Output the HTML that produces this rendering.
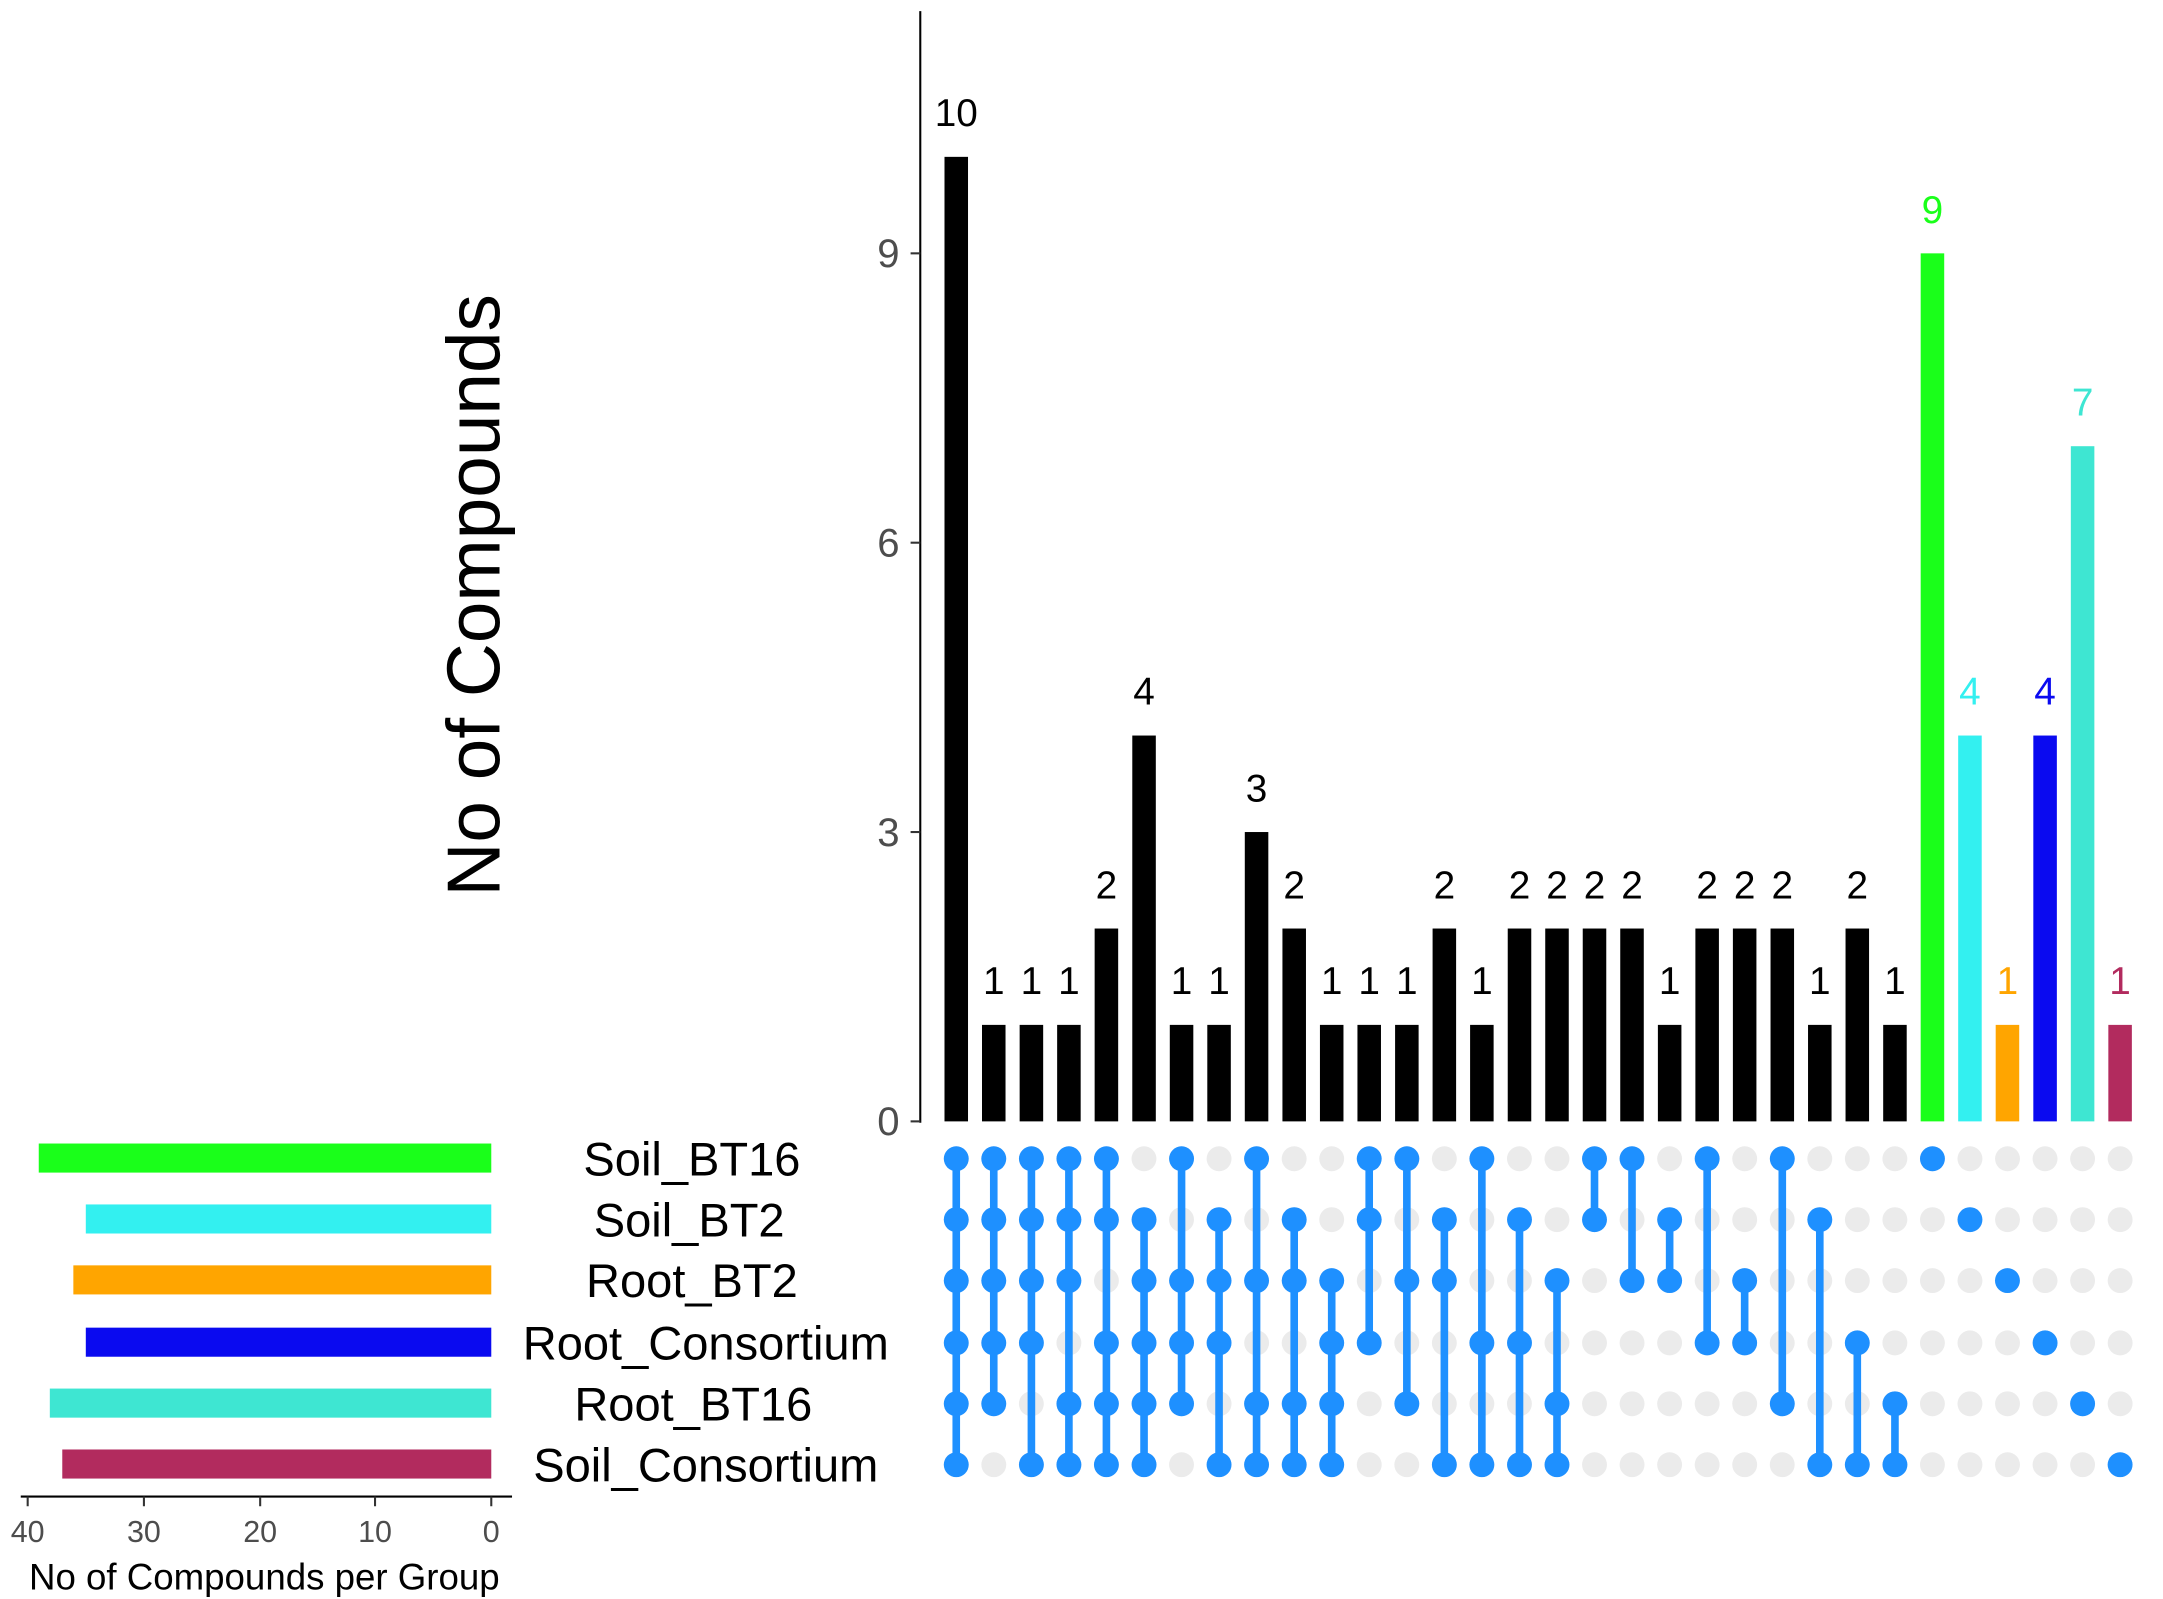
<!DOCTYPE html>
<html><head><meta charset="utf-8"><style>html,body{margin:0;padding:0;background:#fff}svg{display:block}</style></head>
<body>
<svg width="2163" height="1599" viewBox="0 0 1563 1155" preserveAspectRatio="none" xmlns="http://www.w3.org/2000/svg" font-family="Liberation Sans, sans-serif">
<rect width="1563" height="1155" fill="#fff"/>
<line x1="665" y1="8" x2="665" y2="811" stroke="#000" stroke-width="1.5"/>
<g stroke="#333" stroke-width="1.5">
<line x1="658" y1="810" x2="665" y2="810"/><line x1="658" y1="601" x2="665" y2="601"/>
<line x1="658" y1="392" x2="665" y2="392"/><line x1="658" y1="183" x2="665" y2="183"/>
</g>
<g font-size="29" fill="#4d4d4d" text-anchor="end">
<text x="650" y="820">0</text><text x="650" y="611">3</text><text x="650" y="402">6</text><text x="650" y="193">9</text>
</g>
<text transform="translate(361,430) rotate(-90)" font-size="54" text-anchor="middle" fill="#000">No of Compounds</text>

<!-- bars -->
<g fill="#000">
<rect x="682.5" y="113.3" width="17" height="696.7"/>
<rect x="709.6" y="740.3" width="17" height="69.7"/>
<rect x="736.8" y="740.3" width="17" height="69.7"/>
<rect x="763.9" y="740.3" width="17" height="69.7"/>
<rect x="791" y="670.7" width="17" height="139.3"/>
<rect x="818.2" y="531.3" width="17" height="278.7"/>
<rect x="845.3" y="740.3" width="17" height="69.7"/>
<rect x="872.4" y="740.3" width="17" height="69.7"/>
<rect x="899.5" y="601" width="17" height="209"/>
<rect x="926.7" y="670.7" width="17" height="139.3"/>
<rect x="953.8" y="740.3" width="17" height="69.7"/>
<rect x="980.9" y="740.3" width="17" height="69.7"/>
<rect x="1008.1" y="740.3" width="17" height="69.7"/>
<rect x="1035.2" y="670.7" width="17" height="139.3"/>
<rect x="1062.3" y="740.3" width="17" height="69.7"/>
<rect x="1089.5" y="670.7" width="17" height="139.3"/>
<rect x="1116.6" y="670.7" width="17" height="139.3"/>
<rect x="1143.7" y="670.7" width="17" height="139.3"/>
<rect x="1170.8" y="670.7" width="17" height="139.3"/>
<rect x="1198" y="740.3" width="17" height="69.7"/>
<rect x="1225.1" y="670.7" width="17" height="139.3"/>
<rect x="1252.2" y="670.7" width="17" height="139.3"/>
<rect x="1279.4" y="670.7" width="17" height="139.3"/>
<rect x="1306.5" y="740.3" width="17" height="69.7"/>
<rect x="1333.6" y="670.7" width="17" height="139.3"/>
<rect x="1360.8" y="740.3" width="17" height="69.7"/>
</g>
<rect x="1387.9" y="183" width="17" height="627" fill="#1aff1a"/>
<rect x="1415" y="531.3" width="17" height="278.7" fill="#33f0f0"/>
<rect x="1442.1" y="740.3" width="17" height="69.7" fill="#ffa500"/>
<rect x="1469.3" y="531.3" width="17" height="278.7" fill="#0a0af0"/>
<rect x="1496.4" y="322.3" width="17" height="487.7" fill="#3ee6d2"/>
<rect x="1523.5" y="740.3" width="17" height="69.7" fill="#b22b5e"/>

<g font-size="28" text-anchor="middle" fill="#000">
<text x="691" y="91">10</text>
<text x="718.1" y="718">1</text><text x="745.3" y="718">1</text><text x="772.4" y="718">1</text>
<text x="799.5" y="649">2</text><text x="826.7" y="509">4</text>
<text x="853.8" y="718">1</text><text x="880.9" y="718">1</text>
<text x="908" y="579">3</text><text x="935.2" y="649">2</text>
<text x="962.3" y="718">1</text><text x="989.4" y="718">1</text><text x="1016.6" y="718">1</text>
<text x="1043.7" y="649">2</text><text x="1070.8" y="718">1</text>
<text x="1098" y="649">2</text><text x="1125.1" y="649">2</text><text x="1152.2" y="649">2</text><text x="1179.3" y="649">2</text>
<text x="1206.5" y="718">1</text>
<text x="1233.6" y="649">2</text><text x="1260.7" y="649">2</text><text x="1287.9" y="649">2</text>
<text x="1315" y="718">1</text><text x="1342.1" y="649">2</text><text x="1369.3" y="718">1</text>
</g>
<g font-size="28" text-anchor="middle">
<text x="1396.4" y="161" fill="#1aff1a">9</text>
<text x="1423.5" y="509" fill="#33f0f0">4</text>
<text x="1450.6" y="718" fill="#ffa500">1</text>
<text x="1477.8" y="509" fill="#0a0af0">4</text>
<text x="1504.9" y="300" fill="#3ee6d2">7</text>
<text x="1532" y="718" fill="#b22b5e">1</text>
</g>

<!-- matrix grey dots -->
<g stroke="#ebebeb" stroke-width="18" stroke-linecap="round" stroke-dasharray="0 27.13">
<line x1="691" y1="837" x2="1533" y2="837"/>
<line x1="691" y1="881" x2="1533" y2="881"/>
<line x1="691" y1="925" x2="1533" y2="925"/>
<line x1="691" y1="970" x2="1533" y2="970"/>
<line x1="691" y1="1014" x2="1533" y2="1014"/>
<line x1="691" y1="1058" x2="1533" y2="1058"/>
</g>
<!-- connecting lines -->
<g stroke="#1e90ff" stroke-width="5.5">
<line x1="691" y1="837" x2="691" y2="1058"/>
<line x1="718.1" y1="837" x2="718.1" y2="1014"/>
<line x1="745.3" y1="837" x2="745.3" y2="1058"/>
<line x1="772.4" y1="837" x2="772.4" y2="1058"/>
<line x1="799.5" y1="837" x2="799.5" y2="1058"/>
<line x1="826.7" y1="881" x2="826.7" y2="1058"/>
<line x1="853.8" y1="837" x2="853.8" y2="1014"/>
<line x1="880.9" y1="881" x2="880.9" y2="1058"/>
<line x1="908" y1="837" x2="908" y2="1058"/>
<line x1="935.2" y1="881" x2="935.2" y2="1058"/>
<line x1="962.3" y1="925" x2="962.3" y2="1058"/>
<line x1="989.4" y1="837" x2="989.4" y2="970"/>
<line x1="1016.6" y1="837" x2="1016.6" y2="1014"/>
<line x1="1043.7" y1="881" x2="1043.7" y2="1058"/>
<line x1="1070.8" y1="837" x2="1070.8" y2="1058"/>
<line x1="1098" y1="881" x2="1098" y2="1058"/>
<line x1="1125.1" y1="925" x2="1125.1" y2="1058"/>
<line x1="1152.2" y1="837" x2="1152.2" y2="881"/>
<line x1="1179.3" y1="837" x2="1179.3" y2="925"/>
<line x1="1206.5" y1="881" x2="1206.5" y2="925"/>
<line x1="1233.6" y1="837" x2="1233.6" y2="970"/>
<line x1="1260.7" y1="925" x2="1260.7" y2="970"/>
<line x1="1287.9" y1="837" x2="1287.9" y2="1014"/>
<line x1="1315" y1="881" x2="1315" y2="1058"/>
<line x1="1342.1" y1="970" x2="1342.1" y2="1058"/>
<line x1="1369.3" y1="1014" x2="1369.3" y2="1058"/>
</g>
<!-- blue dots -->
<g fill="#1e90ff">
<circle cx="691" cy="837" r="9"/><circle cx="691" cy="881" r="9"/><circle cx="691" cy="925" r="9"/><circle cx="691" cy="970" r="9"/><circle cx="691" cy="1014" r="9"/><circle cx="691" cy="1058" r="9"/>
<circle cx="718.1" cy="837" r="9"/><circle cx="718.1" cy="881" r="9"/><circle cx="718.1" cy="925" r="9"/><circle cx="718.1" cy="970" r="9"/><circle cx="718.1" cy="1014" r="9"/>
<circle cx="745.3" cy="837" r="9"/><circle cx="745.3" cy="881" r="9"/><circle cx="745.3" cy="925" r="9"/><circle cx="745.3" cy="970" r="9"/><circle cx="745.3" cy="1058" r="9"/>
<circle cx="772.4" cy="837" r="9"/><circle cx="772.4" cy="881" r="9"/><circle cx="772.4" cy="925" r="9"/><circle cx="772.4" cy="1014" r="9"/><circle cx="772.4" cy="1058" r="9"/>
<circle cx="799.5" cy="837" r="9"/><circle cx="799.5" cy="881" r="9"/><circle cx="799.5" cy="970" r="9"/><circle cx="799.5" cy="1014" r="9"/><circle cx="799.5" cy="1058" r="9"/>
<circle cx="826.7" cy="881" r="9"/><circle cx="826.7" cy="925" r="9"/><circle cx="826.7" cy="970" r="9"/><circle cx="826.7" cy="1014" r="9"/><circle cx="826.7" cy="1058" r="9"/>
<circle cx="853.8" cy="837" r="9"/><circle cx="853.8" cy="925" r="9"/><circle cx="853.8" cy="970" r="9"/><circle cx="853.8" cy="1014" r="9"/>
<circle cx="880.9" cy="881" r="9"/><circle cx="880.9" cy="925" r="9"/><circle cx="880.9" cy="970" r="9"/><circle cx="880.9" cy="1058" r="9"/>
<circle cx="908" cy="837" r="9"/><circle cx="908" cy="925" r="9"/><circle cx="908" cy="1014" r="9"/><circle cx="908" cy="1058" r="9"/>
<circle cx="935.2" cy="881" r="9"/><circle cx="935.2" cy="925" r="9"/><circle cx="935.2" cy="1014" r="9"/><circle cx="935.2" cy="1058" r="9"/>
<circle cx="962.3" cy="925" r="9"/><circle cx="962.3" cy="970" r="9"/><circle cx="962.3" cy="1014" r="9"/><circle cx="962.3" cy="1058" r="9"/>
<circle cx="989.4" cy="837" r="9"/><circle cx="989.4" cy="881" r="9"/><circle cx="989.4" cy="970" r="9"/>
<circle cx="1016.6" cy="837" r="9"/><circle cx="1016.6" cy="925" r="9"/><circle cx="1016.6" cy="1014" r="9"/>
<circle cx="1043.7" cy="881" r="9"/><circle cx="1043.7" cy="925" r="9"/><circle cx="1043.7" cy="1058" r="9"/>
<circle cx="1070.8" cy="837" r="9"/><circle cx="1070.8" cy="970" r="9"/><circle cx="1070.8" cy="1058" r="9"/>
<circle cx="1098" cy="881" r="9"/><circle cx="1098" cy="970" r="9"/><circle cx="1098" cy="1058" r="9"/>
<circle cx="1125.1" cy="925" r="9"/><circle cx="1125.1" cy="1014" r="9"/><circle cx="1125.1" cy="1058" r="9"/>
<circle cx="1152.2" cy="837" r="9"/><circle cx="1152.2" cy="881" r="9"/>
<circle cx="1179.3" cy="837" r="9"/><circle cx="1179.3" cy="925" r="9"/>
<circle cx="1206.5" cy="881" r="9"/><circle cx="1206.5" cy="925" r="9"/>
<circle cx="1233.6" cy="837" r="9"/><circle cx="1233.6" cy="970" r="9"/>
<circle cx="1260.7" cy="925" r="9"/><circle cx="1260.7" cy="970" r="9"/>
<circle cx="1287.9" cy="837" r="9"/><circle cx="1287.9" cy="1014" r="9"/>
<circle cx="1315" cy="881" r="9"/><circle cx="1315" cy="1058" r="9"/>
<circle cx="1342.1" cy="970" r="9"/><circle cx="1342.1" cy="1058" r="9"/>
<circle cx="1369.3" cy="1014" r="9"/><circle cx="1369.3" cy="1058" r="9"/>
<circle cx="1396.4" cy="837" r="9"/>
<circle cx="1423.5" cy="881" r="9"/>
<circle cx="1450.6" cy="925" r="9"/>
<circle cx="1477.8" cy="970" r="9"/>
<circle cx="1504.9" cy="1014" r="9"/>
<circle cx="1532" cy="1058" r="9"/>
</g>

<!-- left set size bars -->
<g>
<rect x="28" y="826" width="327" height="21" fill="#1aff1a"/>
<rect x="62" y="870" width="293" height="21" fill="#33f0f0"/>
<rect x="53" y="914" width="302" height="21" fill="#ffa500"/>
<rect x="62" y="959" width="293" height="21" fill="#0a0af0"/>
<rect x="36" y="1003" width="319" height="21" fill="#3ee6d2"/>
<rect x="45" y="1047" width="310" height="21" fill="#b22b5e"/>
</g>
<line x1="15" y1="1081" x2="370" y2="1081" stroke="#000" stroke-width="1.5"/>
<g stroke="#333" stroke-width="1.5">
<line x1="20" y1="1081" x2="20" y2="1088"/><line x1="104" y1="1081" x2="104" y2="1088"/>
<line x1="188" y1="1081" x2="188" y2="1088"/><line x1="271" y1="1081" x2="271" y2="1088"/>
<line x1="355" y1="1081" x2="355" y2="1088"/>
</g>
<g font-size="22" fill="#4d4d4d" text-anchor="middle">
<text x="20" y="1114">40</text><text x="104" y="1114">30</text><text x="188" y="1114">20</text><text x="271" y="1114">10</text><text x="355" y="1114">0</text>
</g>
<text x="191" y="1148" font-size="26.5" text-anchor="middle" fill="#000">No of Compounds per Group</text>
<g font-size="34" text-anchor="middle" fill="#000">
<text x="500" y="849">Soil_BT16</text>
<text x="498" y="893">Soil_BT2</text>
<text x="500" y="937">Root_BT2</text>
<text x="510" y="982">Root_Consortium</text>
<text x="501" y="1026">Root_BT16</text>
<text x="510" y="1070">Soil_Consortium</text>
</g>
</svg>
</body></html>
